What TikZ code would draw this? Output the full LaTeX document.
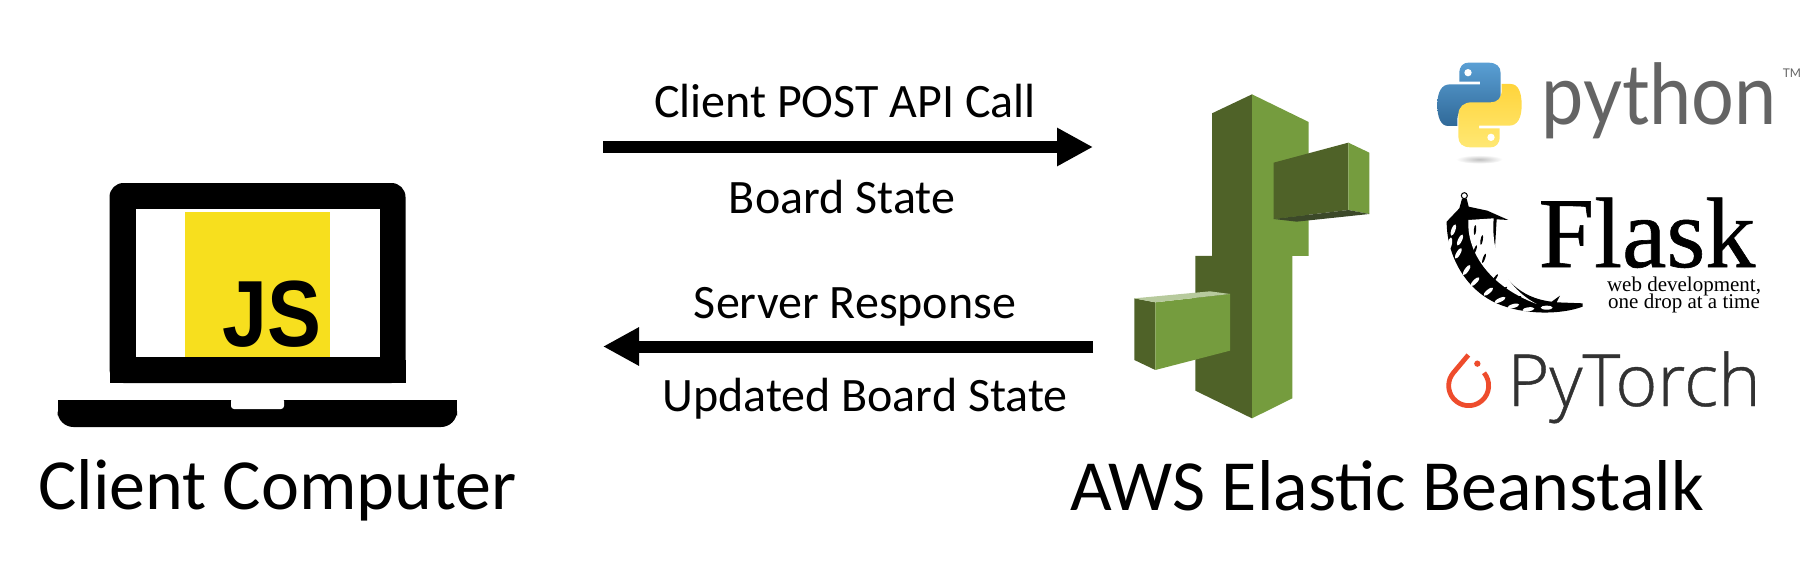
\documentclass[tikz,border=0pt]{standalone}
\usepackage{fontspec}
\usetikzlibrary{arrows.meta}
\setmainfont{Carlito}
\newfontfamily\jsfont{Liberation Sans}
\newfontfamily\pythonfont{Lato}
\newfontfamily\flaskfont[FakeBold=0.6]{Liberation Serif}
\newfontfamily\sloganfont{Liberation Serif}
\newfontfamily\torchfont[FakeBold=0.6]{Open Sans Light}
\definecolor{jsyellow}{RGB}{247, 223, 30}
\definecolor{leafdark}{RGB}{79, 98, 40}
\definecolor{leaflight}{RGB}{117, 156, 62}
\definecolor{leafpale}{RGB}{183, 202, 157}
\definecolor{leafshade}{RGB}{60, 73, 41}
\definecolor{pyblue}{RGB}{48, 105, 152}
\definecolor{pyskyblue}{RGB}{90, 159, 212}
\definecolor{pyyellow}{RGB}{255, 212, 59}
\definecolor{pypale}{RGB}{255, 232, 115}
\definecolor{pygrey}{RGB}{100, 100, 100}
\definecolor{torchred}{RGB}{238, 76, 44}
\definecolor{torchgrey}{RGB}{50, 50, 50}
\newcommand{\snakepath}{(205,68) -- (265,68) .. controls (290,68) and (302,80) .. (302,100) -- (302,165) .. controls (302,190) and (285,203) .. (262,203) -- (205,203) .. controls (185,203) and (172,215) .. (172,240) -- (172,258) -- (145,258) .. controls (122,258) and (112,232) .. (112,195) .. controls (112,155) and (125,133) .. (150,133) -- (240,133) -- (240,125) -- (178,125) -- (178,100) .. controls (178,78) and (190,68) .. (205,68) -- cycle}

\begin{document}
\begin{tikzpicture}
  [
    x=1pt, y=-1pt,
    flow/.style={line width=12pt, -{Triangle[length=36pt, width=36pt]}},
    flowtext/.style={anchor=base, font=\fontsize{48}{48}\selectfont},
    title/.style={anchor=base, font=\fontsize{72}{72}\selectfont},
    slogan/.style={anchor=base, inner sep=0pt, font=\sloganfont\fontsize{21}{21}\selectfont},
    dark/.style={fill=leafdark},
    light/.style={fill=leaflight}
  ]
  \useasboundingbox (0, 0) rectangle (1813, 575);

  % laptop
  \fill[rounded corners=14pt] (109.5, 383) -- (109.5, 183) -- (405.5, 183) -- (405.5, 383) -- cycle;
  \fill (109.5, 360) rectangle (405.5, 383);
  \fill[white] (136, 209) rectangle (380, 357);
  \fill[jsyellow] (185, 212) rectangle (330, 357);
  \node[anchor=base, font=\jsfont\bfseries\fontsize{94}{94}\selectfont] (js) at (272, 346) {\scalebox{0.86}[1]{JS}};
  \fill[rounded corners=16pt] (57.5, 400) -- (57.5, 427) -- (457, 427) -- (457, 400) -- cycle;
  \fill (57.5, 400) rectangle (457, 412);
  \fill[white, rounded corners=3pt] (231, 398) -- (231, 409) -- (284, 409) -- (284, 398) -- cycle;
  \node[title] (client) at (277.5, 509) {Client Computer};

  % arrows
  \coordinate (poststart) at (603, 147);
  \coordinate (postend) at (1093, 147);
  \coordinate (respstart) at (1093, 346.5);
  \coordinate (respend) at (603, 346.5);
  \draw[flow] (poststart) -- (postend);
  \draw[flow] (respstart) -- (respend);
  \node[flowtext] (post) at (845, 118) {Client POST API Call};
  \node[flowtext] (board) at (842, 213) {Board State};
  \node[flowtext] (response) at (855, 318) {Server Response};
  \node[flowtext] (updated) at (865, 411) {Updated Board State};

  % beanstalk
  \begin{scope}[shift={(1100, 70)}, scale=1/3]
    \fill[dark] (456, 73) -- (336, 130) -- (336, 558) -- (286, 558) -- (286, 962) -- (456, 1045) -- cycle;
    \fill[light] (456, 73) -- (626, 156) -- (626, 558) -- (577, 558) -- (577, 985) -- (456, 1045) -- cycle;
    \fill[dark] (521, 278) -- (745, 218) -- (745, 420) -- (521, 447) -- cycle;
    \fill[light] (745, 218) -- (808, 248) -- (808, 432) -- (745, 420) -- cycle;
    \fill[leafshade] (521, 447) -- (745, 420) -- (808, 432) -- (590, 455) -- cycle;
    \fill[dark] (103, 685) -- (166, 697) -- (166, 900) -- (103, 870) -- cycle;
    \fill[light] (166, 697) -- (390, 672) -- (390, 842) -- (166, 900) -- cycle;
    \fill[leafpale] (103, 685) -- (330, 664) -- (390, 672) -- (166, 697) -- cycle;
  \end{scope}
  \node[title] (aws) at (1387, 510) {AWS Elastic Beanstalk};

  % logos
  \begin{scope}[shift={(1400, 40)}, scale=1/3]
    \shade[inner color=black!25, outer color=white] (238, 358) ellipse[x radius=70, y radius=13];
    \shade[top color=pyskyblue, bottom color=pyblue] \snakepath;
    \fill[white] (204, 98) circle[radius=11];
    \begin{scope}[rotate around={180:(238.5, 195)}]
      \shade[top color=pyyellow, bottom color=pypale] \snakepath;
      \fill[white] (204, 98) circle[radius=11];
    \end{scope}

    % horn
    \draw[line width=1pt] (193, 467) circle[radius=9];
    \fill (186, 476) -- (200, 476) -- (206, 500) -- (262, 512) -- (325, 540) -- (290, 538) -- (284, 640) .. controls (300, 710) and (360, 775) .. (455, 785) -- (480, 767) -- (470, 787) -- (548, 790) -- (548, 800) .. controls (480, 825) and (370, 825) .. (290, 790) .. controls (190, 745) and (140, 640) .. (140, 545) -- (178, 505) -- cycle;
    % highlights of the horn
    \fill[white] (205, 540) .. controls (200, 630) and (260, 735) .. (410, 792) .. controls (320, 745) and (272, 650) .. (281, 535) -- cycle;
    \foreach \fleckx/\flecky/\fleckrot in {160/570/70, 180/600/65, 175/640/60, 200/690/55, 225/725/45, 265/755/40, 300/780/25, 340/798/15, 385/808/8, 150/610/80, 440/803/0} {
      \fill[white, rotate around={\fleckrot:(\fleckx, \flecky)}] (\fleckx, \flecky) ellipse[x radius=18, y radius=6];
    }
    \foreach \fleckx/\flecky/\fleckrot in {225/570/85, 245/600/80, 225/630/70, 252/655/70, 245/700/60, 285/715/55, 310/750/40, 350/775/25} {
      \fill[rotate around={\fleckrot:(\fleckx, \flecky)}] (\fleckx, \flecky) ellipse[x radius=15, y radius=3.5];
    }

    % flame
    \draw[torchred, line width=4.8pt, line join=round] (206, 1037) ++(-40:60) arc[start angle=-40, end angle=220, radius=60] -- (205, 945);
    \fill[torchred] (232, 971) circle[radius=9.5];
  \end{scope}
  \node[anchor=base, text=pygrey, font=\pythonfont\fontsize{84}{84}\selectfont] (python) at (1659, 125) {\scalebox{0.9}[1]{python}};
  \node[anchor=base, text=pygrey, font=\pythonfont\fontsize{12}{12}\selectfont] (trademark) at (1792, 78) {TM};
  \node[anchor=base, inner sep=0pt, font=\flaskfont\fontsize{100}{100}\selectfont] (flask) at (1647, 267) {Flask};
  \node[slogan, text depth=0pt] (slogan1) at (1684, 291) {web development,};
  \node[slogan] (slogan2) at (1684, 308) {one drop at a time};
  \node[anchor=base, text=torchgrey, font=\torchfont\fontsize{72}{72}\selectfont] (pytorch) at (1634, 406) {PyTorch};
\end{tikzpicture}
\end{document}
